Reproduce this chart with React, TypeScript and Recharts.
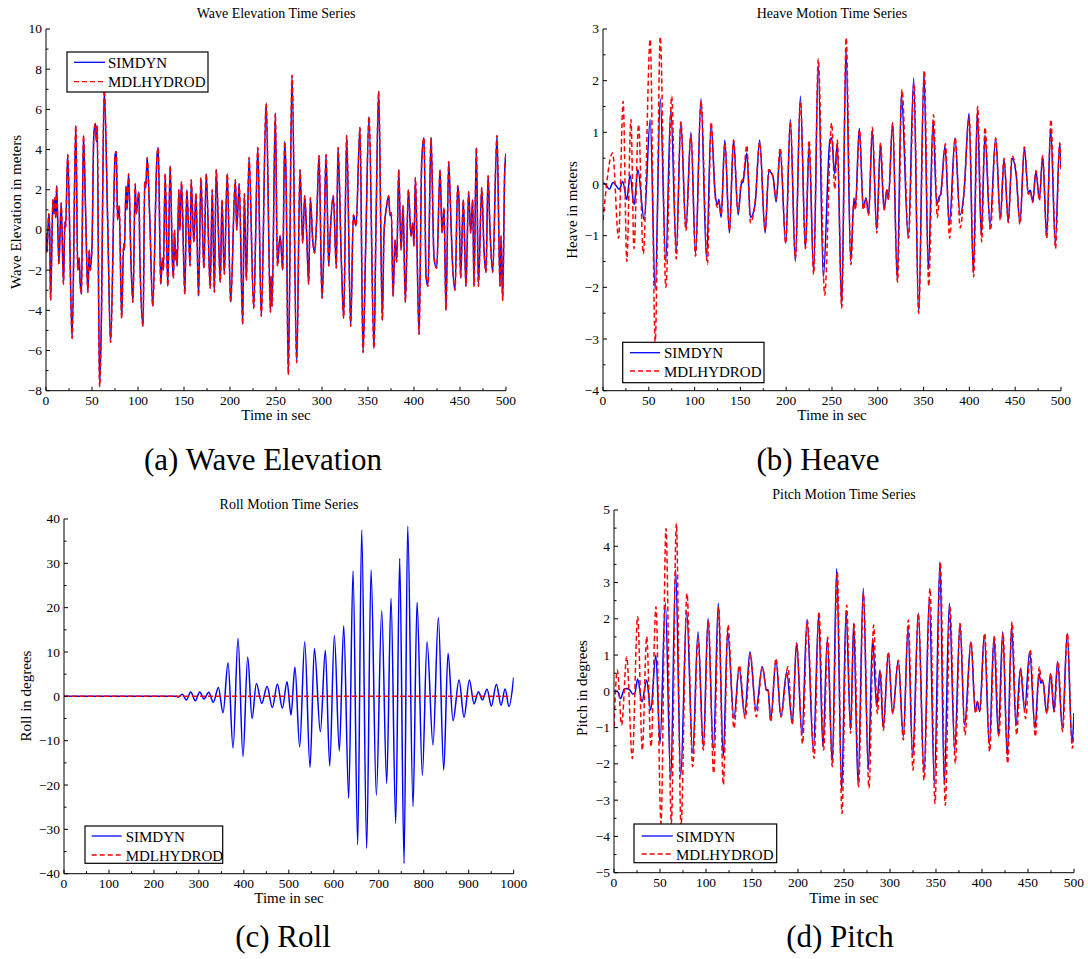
import React from 'react';
import { LineChart, Line, XAxis, YAxis } from 'recharts';

type Pt = [number, number];

// ---- Wave elevation (m) vs time (s) ----
const waveSimdyn: Pt[] = [
  [0, -0.15], [1, -1.1], [3, 0.8], [4, 0], [5, -3.5], [7.5, 1.5], [8.5, 0.8], [9.6, 1.6], [10.6, 0.6], [11.6, 2.2],
  [14, -1.7], [16.5, 1.35], [19, -2.7], [20.5, 0.4], [21.3, 0.1], [23.6, 3.75], [28.4, -5.4], [32.4, 5.2], [34.5, -2.0], [36, -1.4],
  [37, -2.5], [38.5, -3.2], [40.7, 4.7], [43, 1.0], [45.5, -3.1], [47, -1.0], [48, -2.0], [50, -0.8], [52, 4.8], [53.8, 5.3],
  [54.8, 4.4], [55.6, 5.2], [58.2, -7.8], [60, -5.0], [63.3, 7.0], [67, 0.5], [70.2, -5.6], [75.3, 3.8], [76.4, 3.9], [77.8, 0.5],
  [79.6, 1.2], [82.2, -4.4], [84.4, -0.7], [85.2, -1.0], [87, 2.2], [88, 1.0], [89.8, 2.8], [92.5, -1.8], [94.5, -3.6], [97, 2.3],
  [98, 0.8], [101, 1.9], [102, -1.3], [105.5, -4.8], [107.3, 2.4], [108.4, 2.1], [110, 3.6], [112.7, 0.7], [116, -3.8], [120.7, 3.7],
  [122, 4.1], [124.7, -2.7], [126.5, -1.4], [127.6, -2.0], [129.5, 2.8], [132.4, -2.8], [134.9, 3.2], [137.5, -1.7], [138.5, -2.4], [139.6, 0],
  [141, -1.5], [141.8, -1.0], [142.5, -1.8], [144.4, 2.0], [145.5, 0], [147.3, 2.4], [150.9, -3.2], [153, 2.0], [156.7, -1.8], [157.8, 2.5],
  [160.7, -0.6], [163, 1.8], [165.8, -3.3], [168.4, 2.6], [171.6, -1.9], [174.2, 2.8], [178.5, -2.9], [180.7, 2.0], [183, -3.1], [185, 3.0],
  [189.5, -2.6], [191.3, 1.5], [193.8, -2.2], [197, 2.8], [200.7, -3.6], [205.8, 2.5], [207.3, 0], [210, 2.3], [213.8, -4.7], [215.6, 1.8],
  [217.8, -2.5], [220.7, 3.6], [225.8, -3.9], [230.2, 4.1], [234, -4.3], [239.3, 6.3], [244, -4.1], [244.6, -2.3], [245.7, -3.8], [249.3, 5.8],
  [251.5, -1.8], [254.4, -0.3], [255.5, -0.8], [257.3, -2.0], [259.4, 4.4], [260.9, 2.7], [263.4, -7.2], [267.4, 7.7], [272.5, -6.6], [276.1, 3.0],
  [279, -0.65], [281.2, 1.7], [283.4, -0.3], [285.5, -2.7], [287.3, 1.6], [289.9, -0.5], [292, -1.15], [294.2, 0.5], [296.8, 3.7], [300, -3.4],
  [302.2, -0.65], [304.4, 3.75], [307.3, -1.8], [309.1, 0], [312.3, 1.7], [315.6, -1.9], [317.4, 4.1], [321, -1.5], [323.6, -4.4], [326.8, 4.7],
  [331.2, -4.8], [334.1, 0.76], [337, 0.2], [341.3, 5.1], [344.6, -6.1], [347.5, -0.8], [351.1, 5.65], [356.5, -5.9], [358.7, 0.27], [361.6, 6.9],
  [365.6, -4.5], [367.4, -0.15], [370.3, 1.2], [372.5, 1.7], [373.9, 0.7], [375.4, 0.85], [377.2, -3.3], [379.4, -0.5], [381.2, -1.6], [383.4, 3.0],
  [385.9, -1.0], [388.1, 1.2], [390.6, -3.6], [393.9, 2.0], [396.8, -0.3], [398.6, 0.35], [400, -0.8], [401.5, 2.6], [405.5, -5.2], [408.4, 3.4],
  [410.9, 4.6], [413.1, -2.3], [415.2, -2.8], [418.5, 4.6], [421.8, -1.4], [424.7, -1.9], [428.3, 3.0], [430.5, -0.15], [432.6, 1.1], [434.8, -4.0],
  [437.7, 3.4], [439.2, 1.8], [441.3, -1.1], [444.6, -3.0], [447.5, 2.2], [448.9, 1.5], [450.7, -2.4], [453.6, 1.5], [456.5, -2.8], [459.4, 1.9],
  [461.6, -0.15], [463.8, 1.5], [465.2, -2.8], [467.8, 4.1], [470, -2.8], [473.6, 2.1], [476.1, -1.0], [478.3, -2.1], [480.5, 2.7], [482.6, 0],
  [485.5, -2.1], [490.2, 4.7], [493.5, -2.8], [494.6, -0.3], [496.4, -3.5], [498.6, 2.9], [500, 3.8],
];
// The incident wave is the same input to both codes
const waveMdlhydrod: Pt[] = waveSimdyn;

// ---- Heave (m) ----
const heaveSimdyn: Pt[] = [
  [0, 0.02], [2.2, 0], [7, -0.1], [11, 0.03], [18, -0.1], [21.5, 0.05], [26, -0.3], [29.5, 0.17], [34, -0.4], [38, 0.28],
  [45, -0.7], [51.5, 1.25], [57, -2.05], [62.5, 1.65], [68.5, -1.5], [74, 1.45], [80, -1.3], [85, 1.2], [90.5, -0.85], [96, 1.0],
  [101, -1.35], [107, 1.65], [113, -1.45], [118, 1.15], [122.5, -0.2], [125, -0.4], [126.5, -0.3], [129, -0.65], [133, 0.85], [138, -0.95],
  [142.5, 0.85], [147.5, -0.6], [151, 0], [153, 0.05], [157, 0.6], [161, -0.65], [166, -0.4], [171, 0.85], [177, -0.95], [181, 0.25],
  [185.5, 0.15], [189, -0.35], [193.5, 0.65], [199.5, -1.15], [204.5, 1.25], [210, -1.5], [215.5, 1.7], [221, -1.25], [225, 0.75], [230, -1.7],
  [235, 2.3], [240.5, -1.8], [247.8, 0.86], [249.6, 0.89], [252.9, 0.2], [255.8, 0.79], [260.6, -2.37], [265.3, 2.6], [270.4, -1.5], [274, -0.27],
  [275.5, -0.46], [279.8, 1.08], [284.2, -0.46], [287.1, -0.27], [290, -0.59], [294, 1.02], [298.8, -0.88], [302.8, 0.76], [306.8, -0.5], [310, -0.11],
  [311.5, -0.3], [316.2, 1.18], [321.3, -1.85], [325.7, 1.73], [333.3, -1.05], [339.2, 2.05], [344.6, -2.5], [350.4, 2.15], [355.2, -1.66], [360.3, 1.21],
  [364.3, -0.4], [367, -0.25], [368.6, -0.2], [373.4, 0.73], [378.1, -0.79], [384.3, 0.89], [389.7, -0.6], [394.1, -0.17], [399.6, 1.37], [404.3, -1.72],
  [408.7, 1.41], [413, -0.98], [417, 0.95], [422.5, -0.79], [428.7, 0.89], [433.8, -0.66], [437.8, 0.47], [442.5, -0.72], [446.5, 0.5], [450.9, 0.21],
  [455.2, -0.75], [460, 0.7], [464.3, -0.17], [466.5, -0.12], [469.1, -0.34], [472.7, 0.24], [476.4, -0.3], [480, 0.54], [484.4, -1.01], [488.7, 1.08],
  [493.8, -1.14], [498.6, 0.79], [500, 0.28],
];
const heaveMdlhydrod: Pt[] = [
  [0, -0.7], [10.5, 0.6], [17, -1.05], [22, 1.6], [26, -1.5], [30.5, 1.25], [33.8, -1.25], [38.8, 1.15], [44, -1.35], [51.5, 2.8],
  [57, -3.05], [62.5, 2.85], [68.6, -2.0], [75, 1.7], [80, -1.45], [85, 1.2], [90.5, -0.9], [96, 0.95], [101, -1.4], [107, 1.6],
  [114, -1.55], [118, 1.2], [122.5, -0.25], [125, -0.45], [126.5, -0.35], [129, -0.6], [133, 0.8], [138, -0.9], [142.5, 0.85], [147.5, -0.55],
  [151, 0.05], [153, 0.1], [157, 0.75], [161, -0.75], [166, -0.35], [171, 0.8], [177, -0.9], [181, 0.28], [185.5, 0.15], [189, -0.3],
  [193.5, 0.7], [199.5, -1.15], [204.5, 1.2], [210, -1.45], [215.5, 1.6], [221, -1.25], [225, 0.85], [230, -1.75], [235, 2.42], [242, -2.15],
  [249.6, 1.18], [253, -0.1], [255.8, 0.85], [260.6, -2.4], [265.5, 2.83], [270.7, -1.56], [274, -0.3], [275.5, -0.5], [280, 1.05], [284.2, -0.5],
  [287, -0.3], [290, -0.6], [294, 1.1], [299, -0.95], [303, 0.8], [307, -0.5], [310, -0.1], [311.5, -0.3], [316.2, 1.18], [321.5, -1.9],
  [326.4, 1.83], [333.5, -1.05], [339.6, 1.95], [344.6, -2.5], [350.8, 2.2], [355.6, -1.98], [360.8, 1.34], [365, -0.65], [367, -0.3], [369, -0.2],
  [373.8, 0.78], [378.4, -1.05], [384.5, 0.9], [390, -0.85], [394, -0.2], [399.8, 1.3], [404.6, -1.8], [409, 1.5], [413.4, -1.12], [417, 1.1],
  [423, -0.9], [428.7, 0.89], [433.8, -0.7], [437.8, 0.5], [442.5, -0.75], [446.5, 0.55], [450.9, 0.25], [455.2, -0.78], [460, 0.72], [464.3, -0.2],
  [466.5, -0.15], [469.1, -0.36], [472.7, 0.26], [476.4, -0.32], [480, 0.55], [484.4, -1.05], [489, 1.25], [494, -1.25], [498.6, 0.8], [500, 0.3],
];

// ---- Roll (deg), 1000 s record ----
const rollSimdyn: Pt[] = [
  [0, 0], [250, 0], [253.6, -0.2], [263, 0.45], [272, -0.8], [281.8, 1.0], [292, -1.0], [301.8, 1.0], [311.4, -0.6], [321.8, 0.9],
  [332, -1.35], [343.3, 2.0], [353.7, -3.7], [364.8, 7.57], [375.9, -11.7], [387, 13.1], [398, -13.6], [408.5, 8.9], [418.2, -5.0], [427.8, 2.9],
  [439.7, -1.6], [451.5, 2.2], [463.4, -2.5], [474.5, 2.8], [485.6, -2.7], [496, 3.3], [504.9, -4.2], [513.5, 6.6], [524.1, -11.4], [535.3, 12.3],
  [547.1, -16.0], [556.8, 10.8], [570.1, -8.0], [581.2, 10.4], [590.9, -15.7], [601.2, 13.7], [612.3, -12.3], [622, 15.9], [633.1, -23.0], [642.7, 28.3],
  [653.1, -33.5], [662, 37.5], [673.1, -34.3], [682.8, 28.5], [694.6, -22.3], [706.5, 19.3], [717.6, -19.6], [727.2, 22.1], [737.6, -28.7], [746.5, 31.1],
  [756.2, -37.7], [764.3, 38.4], [776.2, -24.9], [785.1, 21.2], [796.9, -17.8], [807.3, 12.3], [820.6, -11.0], [832.5, 17.8], [844.4, -16.6], [854, 9.7],
  [865.1, -5.5], [878.5, 3.7], [889.6, -4.7], [901.5, 3.7], [911.8, -1.7], [921.5, 1.05], [930.4, -0.8], [940.7, 1.6], [950.4, -2.2], [961.5, 2.7],
  [971.9, -2.0], [980.8, 1.65], [989.7, -2.3], [1000, 4.3],
];
const rollMdlhydrod: Pt[] = [[0, 0], [988, 0]];

// ---- Pitch (deg) ----
const pitchSimdyn: Pt[] = [
  [0, 0], [3.6, 0], [7.2, -0.2], [10.9, 0.05], [13.8, 0.08], [17.4, 0.03], [20.3, -0.07], [22.5, -0.06], [25.7, 0.34], [30.4, -0.29],
  [35.5, 0.31], [39.9, -0.52], [45.5, 1.0], [50, -1.44], [55.8, 2.44], [61.6, -2.45], [67, 3.36], [72.5, -2.35], [79, 2.2], [85.5, -1.71],
  [91.3, 1.64], [97.1, -1.53], [102.2, 2.01], [108, -1.62], [113.4, 2.43], [118.8, -1.8], [123.5, 1.64], [130.4, -0.75], [136, 0.66], [142, -0.66],
  [147.8, 1.09], [154.3, -0.51], [161.2, 0.68], [166, 0.02], [167.5, 0.05], [170.3, -0.79], [176.1, 0.86], [181.5, -0.7], [187.7, 0.54], [193.8, -0.88],
  [198.5, 1.35], [204.3, -1.21], [209.8, 1.98], [216.7, -1.62], [222.5, 2.1], [227, -1.53], [231.9, 1.46], [237.3, -1.99], [242, 3.39], [247.5, -2.72],
  [252.2, 2.2], [257.2, -1.07], [260.5, 1.87], [265.2, -2.54], [271, 2.84], [276.4, -2.17], [281.1, 1.46], [285.5, -0.42], [289.1, 0.59], [292.7, -1.02],
  [298.2, 1.05], [302.9, -0.61], [309, 0.86], [314.5, -1.25], [319.6, 1.74], [324.6, -1.8], [330.8, 2.15], [337, -2.26], [342.7, 2.56], [348.2, -2.54],
  [354.3, 3.57], [359, -2.58], [364.5, 2.43], [370.3, -1.62], [376.1, 1.87], [381.1, -0.93], [388, 1.37], [392.7, -0.56], [394.9, -0.28], [397.5, -0.56],
  [402.5, 1.55], [408, -1.48], [413, 1.51], [417.7, -1.2], [422.5, 1.64], [427.5, -1.76], [432.2, 1.78], [437, -0.93], [441.7, 0.63], [446.4, -0.52],
  [451.8, 1.09], [457.6, -1.02], [461.9, 0.49], [464.1, 0.22], [465.9, 0.31], [470.3, -0.61], [474.6, 0.49], [478.2, -0.56], [482.2, 0.82], [487.3, -1.02],
  [492.7, 1.6], [497.8, -1.43], [500, -0.6],
];
const pitchMdlhydrod: Pt[] = [
  [0, -0.97], [3.6, 0.59], [8.3, -0.93], [13.8, 0.95], [19.9, -1.85], [25.7, 2.06], [30.8, -1.62], [35.5, 1.51], [40.2, -1.53], [45.6, 2.33],
  [51.1, -3.64], [56.5, 4.49], [62.3, -3.64], [67.8, 4.63], [72.8, -3.73], [79.3, 2.7], [85.5, -2.08], [91.3, 1.46], [97.1, -1.62], [102.6, 1.96],
  [108.3, -2.26], [113.8, 2.33], [118.8, -2.58], [123.9, 1.83], [130.4, -1.02], [136.2, 0.72], [142.7, -0.75], [148.2, 1.0], [154.7, -0.7], [161.2, 0.68],
  [166, 0.0], [167.5, 0.02], [170.3, -0.84], [176.1, 0.91], [181.5, -0.7], [189.1, 0.68], [193.8, -0.93], [198.5, 1.32], [205, -1.44], [210.1, 1.96],
  [217.4, -1.85], [222.8, 2.2], [227.9, -1.62], [232.2, 1.5], [237.3, -2.08], [242.7, 3.3], [247.8, -3.37], [252.9, 2.38], [257.2, -1.16], [260.9, 1.87],
  [265.9, -2.63], [271, 2.7], [277.2, -2.67], [282.2, 1.83], [286.2, -0.61], [289.8, 0.54], [292.7, -1.07], [298.2, 1.09], [302.9, -0.61], [309, 0.86],
  [314.5, -1.34], [320, 1.97], [325, -2.17], [330.8, 2.15], [337, -2.45], [343.5, 2.84], [348.9, -3.09], [354.7, 3.57], [360.1, -3.14], [365.2, 2.33],
  [371, -1.99], [376.1, 1.87], [381.5, -1.2], [388, 1.37], [393.1, -0.61], [395.3, -0.3], [397.8, -0.52], [402.9, 1.6], [408.3, -1.66], [413.4, 1.51],
  [418.5, -1.25], [422.8, 1.6], [427.9, -1.99], [432.6, 1.92], [437.7, -1.2], [442, 0.63], [447.5, -0.75], [452.5, 1.14], [458, -1.25], [462.3, 0.68],
  [464.3, 0.3], [466.3, 0.27], [470.6, -0.61], [474.9, 0.49], [478.6, -0.56], [482.6, 0.82], [487.7, -1.11], [492.7, 1.6], [498.2, -1.57], [500, -1.07],
];

// ---- Axis ticks (every tick position, and the subset that carries a label) ----
const ticks500 = [0, 25, 50, 75, 100, 125, 150, 175, 200, 225, 250, 275, 300, 325, 350, 375, 400, 425, 450, 475, 500];
const labels500 = [0, 50, 100, 150, 200, 250, 300, 350, 400, 450, 500];
const ticks1000 = [0, 50, 100, 150, 200, 250, 300, 350, 400, 450, 500, 550, 600, 650, 700, 750, 800, 850, 900, 950, 1000];
const labels1000 = [0, 100, 200, 300, 400, 500, 600, 700, 800, 900, 1000];
const waveYTicks = [-8, -7, -6, -5, -4, -3, -2, -1, 0, 1, 2, 3, 4, 5, 6, 7, 8, 9, 10];
const waveYLabels = [-8, -6, -4, -2, 0, 2, 4, 6, 8, 10];
const heaveYTicks = [-4, -3.5, -3, -2.5, -2, -1.5, -1, -0.5, 0, 0.5, 1, 1.5, 2, 2.5, 3];
const heaveYLabels = [-4, -3, -2, -1, 0, 1, 2, 3];
const rollYTicks = [-40, -35, -30, -25, -20, -15, -10, -5, 0, 5, 10, 15, 20, 25, 30, 35, 40];
const rollYLabels = [-40, -30, -20, -10, 0, 10, 20, 30, 40];
const pitchYTicks = [-5, -4.5, -4, -3.5, -3, -2.5, -2, -1.5, -1, -0.5, 0, 0.5, 1, 1.5, 2, 2.5, 3, 3.5, 4, 4.5, 5];
const pitchYLabels = [-5, -4, -3, -2, -1, 0, 1, 2, 3, 4, 5];

const seriesNames = ['SIMDYN', 'MDLHYDROD'];

const SERIF = 'Liberation Serif, serif';
const BLUE = '#0000ff';
const RED = '#ff0000';
const DASH = '5 3';
const LINE_W = 1.5;

const fmt = (v: number) => (v < 0 ? '\u2212' + Math.abs(v) : String(v));
const rows = (pts: Pt[]) => pts.map(([t, v]) => ({ t, v }));

type PlotBox = { x: number; y: number; w: number; h: number };

const makeXTick = (labels: number[]) => (p: any) => {
  const v = p.payload.value as number;
  const major = labels.includes(v);
  return (
    <g>
      <line x1={p.x} x2={p.x} y1={p.y} y2={p.y - (major ? 4 : 2.5)} stroke="#000" strokeWidth={1} />
      {major && (
        <text x={p.x} y={p.y + 14} textAnchor="middle" fontFamily={SERIF} fontSize={13.5} fill="#000">
          {fmt(v)}
        </text>
      )}
    </g>
  );
};

const makeYTick = (labels: number[]) => (p: any) => {
  const v = p.payload.value as number;
  const major = labels.includes(v);
  return (
    <g>
      <line x1={p.x} x2={p.x + (major ? 4 : 2.5)} y1={p.y} y2={p.y} stroke="#000" strokeWidth={1} />
      {major && (
        <text x={p.x - 4} y={p.y + 4.5} textAnchor="end" fontFamily={SERIF} fontSize={13.5} fill="#000">
          {fmt(v)}
        </text>
      )}
    </g>
  );
};

type PanelProps = {
  box: PlotBox;
  xMax: number;
  xTicks: number[];
  xLabels: number[];
  yDomain: [number, number];
  yTicks: number[];
  yLabels: number[];
  simdyn: Pt[];
  mdl: Pt[];
};

function Panel({ box, xMax, xTicks, xLabels, yDomain, yTicks, yLabels, simdyn, mdl }: PanelProps) {
  const yw = 50;
  const mt = 14;
  const mr = 24;
  const xh = 30;
  return (
    <div style={{ position: 'absolute', left: box.x - yw, top: box.y - mt }}>
      <LineChart
        width={yw + box.w + mr}
        height={mt + box.h + xh}
        margin={{ top: mt, right: mr, bottom: 0, left: 0 }}
      >
        <XAxis
          dataKey="t"
          type="number"
          domain={[0, xMax]}
          ticks={xTicks}
          interval={0}
          allowDataOverflow
          height={xh}
          tickSize={0}
          tickMargin={0}
          tickLine={false}
          axisLine={{ stroke: '#000', strokeWidth: 1 }}
          tick={makeXTick(xLabels)}
        />
        <YAxis
          type="number"
          domain={yDomain}
          ticks={yTicks}
          interval={0}
          allowDataOverflow
          width={yw}
          tickSize={0}
          tickMargin={0}
          tickLine={false}
          axisLine={{ stroke: '#000', strokeWidth: 1 }}
          tick={makeYTick(yLabels)}
        />
        <Line
          data={rows(simdyn)}
          dataKey="v"
          name={seriesNames[0]}
          type="monotone"
          stroke={BLUE}
          strokeWidth={LINE_W}
          dot={false}
          activeDot={false}
          isAnimationActive={false}
        />
        <Line
          data={rows(mdl)}
          dataKey="v"
          name={seriesNames[1]}
          type="monotone"
          stroke={RED}
          strokeWidth={LINE_W}
          strokeDasharray={DASH}
          dot={false}
          activeDot={false}
          isAnimationActive={false}
        />
      </LineChart>
    </div>
  );
}

// Legend box with both series
function LegendBox({ x, y, w, h, lineX0, lineX1, textX, row1, row2 }: any) {
  return (
    <g>
      <rect x={x} y={y} width={w} height={h} fill="#fff" stroke="#000" strokeWidth={1.2} />
      <line x1={lineX0} x2={lineX1} y1={row1} y2={row1} stroke={BLUE} strokeWidth={1.3} />
      <text x={textX} y={row1 + 5.5} fontFamily={SERIF} fontSize={15} fill="#000">{seriesNames[0]}</text>
      <line x1={lineX0} x2={lineX1} y1={row2} y2={row2} stroke={RED} strokeWidth={1.3} strokeDasharray={DASH} />
      <text x={textX} y={row2 + 5.5} fontFamily={SERIF} fontSize={15} fill="#000">{seriesNames[1]}</text>
    </g>
  );
}

const boxA: PlotBox = { x: 46, y: 29.3, w: 460, h: 361.7 };
const boxB: PlotBox = { x: 603, y: 29.3, w: 458, h: 361.7 };
const boxC: PlotBox = { x: 64.3, y: 519, w: 449.7, h: 354.7 };
const boxD: PlotBox = { x: 614, y: 510, w: 460, h: 362.7 };

export default function App() {
  const titleSize = 14;
  const labelSize = 15;
  const capSize = 31;
  return (
    <div style={{ position: 'absolute', left: 0, top: 0, width: 1088, height: 959, background: '#fff', overflow: 'hidden' }}>
      <Panel box={boxA} xMax={500} xTicks={ticks500} xLabels={labels500} yDomain={[-8, 10]} yTicks={waveYTicks} yLabels={waveYLabels} simdyn={waveSimdyn} mdl={waveMdlhydrod} />
      <Panel box={boxB} xMax={500} xTicks={ticks500} xLabels={labels500} yDomain={[-4, 3]} yTicks={heaveYTicks} yLabels={heaveYLabels} simdyn={heaveSimdyn} mdl={heaveMdlhydrod} />
      <Panel box={boxC} xMax={1000} xTicks={ticks1000} xLabels={labels1000} yDomain={[-40, 40]} yTicks={rollYTicks} yLabels={rollYLabels} simdyn={rollSimdyn} mdl={rollMdlhydrod} />
      <Panel box={boxD} xMax={500} xTicks={ticks500} xLabels={labels500} yDomain={[-5, 5]} yTicks={pitchYTicks} yLabels={pitchYLabels} simdyn={pitchSimdyn} mdl={pitchMdlhydrod} />

      <svg width={1088} height={959} style={{ position: 'absolute', left: 0, top: 0, pointerEvents: 'none' }}>
        {/* panel titles */}
        <text x={276} y={17.5} textAnchor="middle" fontFamily={SERIF} fontSize={titleSize}>Wave Elevation Time Series</text>
        <text x={832} y={17.5} textAnchor="middle" fontFamily={SERIF} fontSize={titleSize}>Heave Motion Time Series</text>
        <text x={289} y={508.5} textAnchor="middle" fontFamily={SERIF} fontSize={titleSize}>Roll Motion Time Series</text>
        <text x={844} y={499} textAnchor="middle" fontFamily={SERIF} fontSize={titleSize}>Pitch Motion Time Series</text>

        {/* x axis labels */}
        <text x={276} y={420} textAnchor="middle" fontFamily={SERIF} fontSize={labelSize}>Time in sec</text>
        <text x={832} y={420} textAnchor="middle" fontFamily={SERIF} fontSize={labelSize}>Time in sec</text>
        <text x={289} y={903} textAnchor="middle" fontFamily={SERIF} fontSize={labelSize}>Time in sec</text>
        <text x={844} y={903} textAnchor="middle" fontFamily={SERIF} fontSize={labelSize}>Time in sec</text>

        {/* y axis labels */}
        <text transform="translate(20.5,212) rotate(-90)" textAnchor="middle" fontFamily={SERIF} fontSize={labelSize}>Wave Elevation in meters</text>
        <text transform="translate(576.5,210) rotate(-90)" textAnchor="middle" fontFamily={SERIF} fontSize={labelSize}>Heave in meters</text>
        <text transform="translate(30.5,696) rotate(-90)" textAnchor="middle" fontFamily={SERIF} fontSize={labelSize}>Roll in degrees</text>
        <text transform="translate(586.5,688) rotate(-90)" textAnchor="middle" fontFamily={SERIF} fontSize={labelSize}>Pitch in degrees</text>

        {/* legends */}
        <LegendBox x={67} y={52} w={141} h={40} lineX0={74} lineX1={105} textX={108} row1={62.3} row2={81.7} />
        <LegendBox x={622.7} y={342.3} w={141.3} h={40.4} lineX0={630} lineX1={660} textX={664} row1={352.7} row2={371} />
        <LegendBox x={85} y={826} w={137.7} h={37.3} lineX0={91.7} lineX1={121.7} textX={125.7} row1={836} row2={855} />
        <LegendBox x={634} y={824} w={142.7} h={38.7} lineX0={641.7} lineX1={672.7} textX={676} row1={836} row2={854} />

        {/* sub-figure captions */}
        <text x={263} y={470} textAnchor="middle" fontFamily={SERIF} fontSize={capSize}>(a) Wave Elevation</text>
        <text x={818} y={470} textAnchor="middle" fontFamily={SERIF} fontSize={capSize}>(b) Heave</text>
        <text x={283} y={947} textAnchor="middle" fontFamily={SERIF} fontSize={capSize}>(c) Roll</text>
        <text x={840} y={947} textAnchor="middle" fontFamily={SERIF} fontSize={capSize}>(d) Pitch</text>
      </svg>
    </div>
  );
}
